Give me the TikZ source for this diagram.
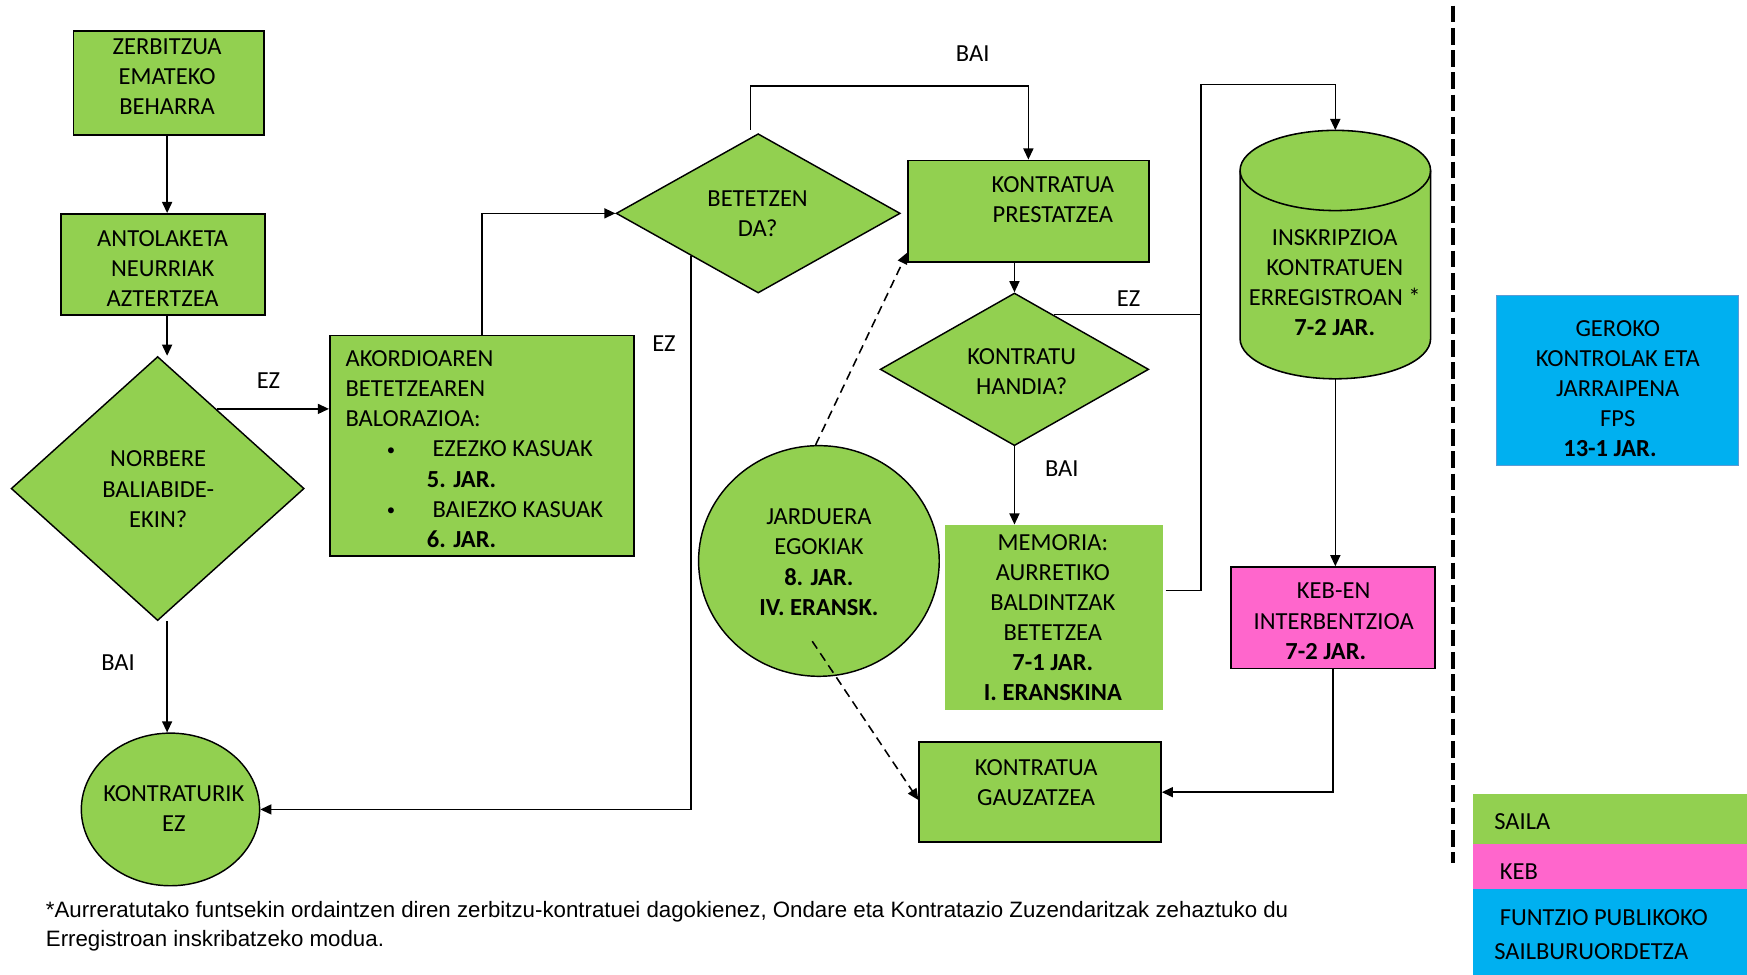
\documentclass[tikz,border=0pt]{standalone}
\usepackage{fontspec}
\setmainfont{Carlito}
\newfontfamily\arialf{Liberation Sans}
\usetikzlibrary{arrows.meta,shapes.geometric,calc}
\definecolor{gr}{RGB}{146,208,80}
\definecolor{pk}{RGB}{255,102,204}
\definecolor{bl}{RGB}{0,176,240}
\definecolor{blb}{RGB}{91,155,213}
\newcommand\ls{\rule[-6.4pt]{0pt}{27pt}}
\newcommand\lsf{\rule[-5.8pt]{0pt}{26pt}}
\newcommand\smbul{\raisebox{1.5pt}{\fontsize{15}{20}\selectfont •}}
\begin{document}
\begin{tikzpicture}[x=1pt,y=-1pt,
  box/.style={draw=black, fill=gr, line width=1.5pt, inner sep=0pt, rectangle},
  dia/.style={draw=black, fill=gr, line width=1.3pt, inner sep=0pt, diamond},
  ell/.style={draw=black, fill=gr, line width=1.3pt, inner sep=0pt, ellipse},
  txt/.style={inner sep=0pt, align=center, font=\fontsize{22}{27}\selectfont},
  lbl/.style={inner sep=0pt, font=\fontsize{22}{27}\selectfont},
  con/.style={line width=1.4pt},
  arr/.style={con, -{Triangle[length=10pt,width=9pt]}},
  dsh/.style={arr, dash pattern=on 8pt off 5pt}]
\useasboundingbox (0,0) rectangle (1568,875);

% divider
\coordinate (dv1) at (1304,5);
\coordinate (dv2) at (1304,775);
\draw[line width=3.5pt, dash pattern=on 15pt off 5pt] (dv1) -- (dv2);

% shapes
\node[box, minimum width=171pt, minimum height=93pt] (zer) at (151.5,74.5) {};
\node[txt] (tzer) at (150,69) {\ls ZERBITZUA\\\ls EMATEKO\\\ls BEHARRA};

\node[box, minimum width=183pt, minimum height=91pt] (ant) at (146.5,237.5) {};
\node[txt] (tant) at (146,241) {\ls ANTOLAKETA\\\ls NEURRIAK\\\ls AZTERTZEA};

\node[dia, minimum width=263pt, minimum height=237pt] (norb) at (141.5,438.5) {};
\node[txt] (tnorb) at (142,439) {\ls NORBERE\\\ls BALIABIDE-\\\ls EKIN?};

\node[box, minimum width=273pt, minimum height=198pt] (ako) at (432.5,400) {};
\node[txt, align=left, anchor=west] (tako) at (310,403) {\ls AKORDIOAREN\\\ls BETETZEAREN\\\ls BALORAZIOA:\\\ls\hspace*{37pt}\makebox[41pt][l]{\smbul}EZEZKO KASUAK\\\ls\hspace*{73pt}\textbf{5. JAR.}\\\ls\hspace*{37pt}\makebox[41pt][l]{\smbul}BAIEZKO KASUAK\\\ls\hspace*{73pt}\textbf{6. JAR.}};

\node[dia, minimum width=255pt, minimum height=143pt] (bet) at (680.5,191.5) {};
\node[txt] (tbet) at (680,191.5) {\ls BETETZEN\\\ls DA?};

\node[box, minimum width=216pt, minimum height=91pt] (kp) at (923,189.5) {};
\node[txt] (tkp) at (945,179.5) {\ls KONTRATUA\\\ls PRESTATZEA};

\node[dia, minimum width=241pt, minimum height=137pt] (kh) at (910.5,331.5) {};
\node[txt] (tkh) at (917,333.5) {\ls KONTRATU\\\ls HANDIA?};

\node[fill=gr, inner sep=0pt, minimum width=196pt, minimum height=166pt] (mem) at (946,554) {};
\node[txt] (tmem) at (945,554.5) {\ls MEMORIA:\\\ls AURRETIKO\\\ls BALDINTZAK\\\ls BETETZEA\\\ls\textbf{7-1 JAR.}\\\ls\textbf{I. ERANSKINA}};

% cylinder
\node[inner sep=0pt, minimum width=171pt, minimum height=223pt] (cyl) at (1198.5,228.5) {};
\draw[fill=gr, line width=1.4pt] (1113,153) -- (1113,304)
  arc[start angle=180, end angle=360, x radius=85.5pt, y radius=36pt] -- (1284,153)
  arc[start angle=0, end angle=180, x radius=85.5pt, y radius=36pt] -- cycle;
\draw[line width=1.4pt] (1113,153) arc[start angle=180, end angle=360, x radius=85.5pt, y radius=36pt];
\node[txt] (tcyl) at (1198,253.5) {\ls INSKRIPZIOA\\\ls KONTRATUEN\\\ls ERREGISTROAN *\\\ls\textbf{7-2 JAR.}};

\node[box, fill=pk, minimum width=183pt, minimum height=91pt] (keb) at (1196.5,554.5) {};
\node[txt] (tkeb) at (1197,557.5) {\ls KEB-EN\\\ls INTERBENTZIOA\\\ls\textbf{7-2 JAR.}\rule{14pt}{0pt}};

\node[box, minimum width=217pt, minimum height=90pt] (gauz) at (933.5,711) {};
\node[txt] (tgauz) at (930,702.5) {\ls KONTRATUA\\\ls GAUZATZEA};

\node[ell, minimum width=216pt, minimum height=207pt] (jard) at (735,503.5) {};
\node[txt] (tjard) at (735,504.5) {\ls JARDUERA\\\ls EGOKIAK\\\ls\textbf{8. JAR.}\\\ls\textbf{IV. ERANSK.}};

\node[ell, minimum width=160pt, minimum height=137pt] (kez) at (153,726.5) {};
\node[txt] (tkez) at (156,725.5) {\ls KONTRATURIK\\\ls EZ};

\node[fill=bl, draw=blb, line width=1pt, inner sep=0pt, minimum width=217pt, minimum height=153pt] (ger) at (1451.5,341.5) {};
\node[txt] (tger) at (1452,349) {\ls GEROKO\\\ls KONTROLAK ETA\\\ls JARRAIPENA\\\ls FPS\\\ls\textbf{13-1 JAR.}\rule{14pt}{0pt}};

% connectors
\coordinate (colx) at (150,0);
\draw[arr] (colx |- zer.south) -- (colx |- ant.north);
\draw[arr] (colx |- ant.south) -- (colx |- norb.north);
\coordinate (ezA) at ($(norb.north)!0.4!(norb.east)$);
\draw[arr] (ezA) -- (ezA -| ako.west);
\draw[arr] (ako.north) |- (bet.west);
\coordinate (baiY) at (0,77);
\draw[arr] ([xshift=-7pt,yshift=3pt]bet.north) |- (kp.north |- baiY) -- (kp.north);
\coordinate (ezB) at ($(bet.west)!0.53!(bet.south)$);
\draw[arr] (ezB) |- (kez.east);
\draw[arr] (colx |- norb.south) -- (colx |- kez.north);
\draw[arr] (kh.north |- kp.south) -- (kh.north);
\coordinate (ezC) at ($(kh.north)!0.29!(kh.east)$);
\coordinate (vt) at (1078,76);
\coordinate (vb) at (1078,530);
\draw[con] (ezC) -- (ezC -| vt);
\draw[arr] ([xshift=2pt]mem.east |- vb) -- (vb) -- (vt) -| (cyl.north);
\draw[arr] (kh.south) -- (kh.south |- mem.north);
\draw[arr] (cyl.south) -- (cyl.south |- keb.north);
\draw[arr] (keb.south) |- (gauz.east);
\draw[dsh] ([xshift=-3pt]jard.north) -- ([yshift=9pt]kp.south west);
\draw[dsh] ([xshift=-6pt,yshift=-72pt]jard.center) -- ([yshift=-7pt]gauz.west);

% labels
\node[lbl] (l1) at (241,342) {\ls EZ};
\node[lbl] (l2) at (596,308) {\ls EZ};
\node[lbl] (l3) at (873,48) {\ls BAI};
\node[lbl] (l4) at (106,595) {\ls BAI};
\node[lbl] (l5) at (1013,268) {\ls EZ};
\node[lbl] (l6) at (953,421) {\ls BAI};

% legend
\node[fill=gr, inner sep=0pt, minimum width=246pt, minimum height=45pt, anchor=north west] (lg1) at (1322,712) {};
\node[fill=pk, inner sep=0pt, minimum width=246pt, minimum height=41pt, anchor=north west] (lg2) at (1322,757) {};
\node[fill=bl, inner sep=0pt, minimum width=246pt, minimum height=77pt, anchor=north west] (lg3) at (1322,798) {};
\node[lbl, anchor=west] (tl1) at (1341,737) {\ls SAILA};
\node[lbl, anchor=west] (tl2) at (1346,782) {\ls KEB};
\node[lbl, anchor=west] (tl3) at (1346,824) {\ls FUNTZIO PUBLIKOKO};
\node[lbl, anchor=west] (tl4) at (1341,854) {\ls SAILBURUORDETZA};

% footnote
\node[inner sep=0pt, anchor=west, align=left, font=\arialf\fontsize{20}{26}\selectfont] (fn) at (41,829) {\lsf *Aurreratutako funtsekin ordaintzen diren zerbitzu-kontratuei dagokienez, Ondare eta Kontratazio Zuzendaritzak zehaztuko du\\\lsf Erregistroan inskribatzeko modua.};
\end{tikzpicture}
\end{document}
